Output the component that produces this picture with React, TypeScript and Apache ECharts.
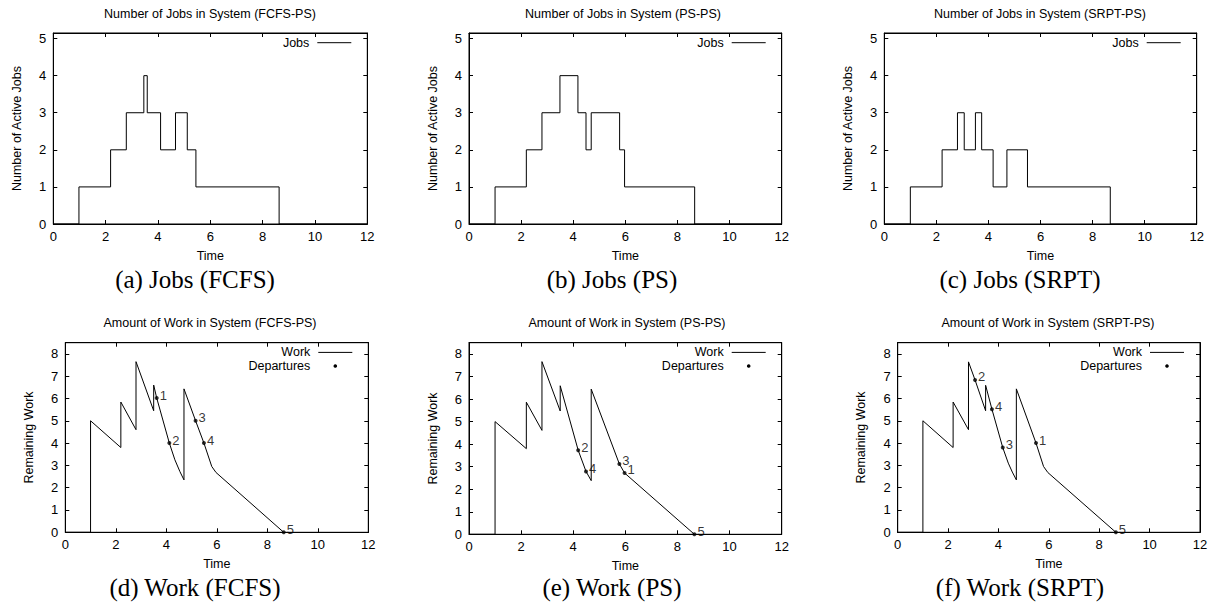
import React, { useEffect, useRef } from "react";
import * as echarts from "echarts";

// ---------- data ----------
const jobsTimeFCFS = [0, 0.98, 2.19, 2.79, 3.46, 3.59, 4.1, 4.67, 5.12, 5.45, 8.63, 12];
const jobsCountFCFS = [0, 1, 2, 3, 4, 3, 2, 3, 2, 1, 0, 0];
const jobsTimePS = [0, 1.0, 2.2, 2.8, 3.49, 4.18, 4.49, 4.69, 5.78, 5.97, 8.66, 12];
const jobsCountPS = [0, 1, 2, 3, 4, 3, 2, 3, 2, 1, 0, 0];
const jobsTimeSRPT = [0, 1.0, 2.22, 2.81, 3.07, 3.5, 3.74, 4.18, 4.71, 5.5, 8.68, 12];
const jobsCountSRPT = [0, 1, 2, 3, 2, 3, 2, 1, 2, 1, 0, 0];

const workTimeFCFS = [0, 1.0, 1.0, 2.2, 2.2, 2.8, 2.8, 3.5, 3.5, 3.62, 4.12, 4.34, 4.54, 4.7, 4.7, 5.16, 5.49, 5.8, 5.97, 8.65];
const workValueFCFS = [0, 0, 5.0, 3.8, 5.84, 4.6, 7.65, 5.45, 6.6, 6.02, 4.0, 3.25, 2.72, 2.35, 6.43, 5.0, 4.0, 2.95, 2.68, 0];
const workTimePS = [0, 1.0, 1.0, 2.2, 2.2, 2.8, 2.8, 3.5, 3.5, 4.19, 4.49, 4.69, 4.69, 5.77, 5.97, 8.65];
const workValuePS = [0, 0, 5.0, 3.8, 5.86, 4.61, 7.66, 5.47, 6.59, 3.73, 2.79, 2.38, 6.44, 3.12, 2.72, 0];
const workTimeSRPT = [0, 1.0, 1.0, 2.2, 2.2, 2.81, 2.81, 3.07, 3.49, 3.49, 3.74, 4.17, 4.39, 4.55, 4.71, 4.71, 5.49, 5.79, 5.96, 8.66];
const workValueSRPT = [0, 0, 5.0, 3.8, 5.84, 4.6, 7.64, 6.83, 5.45, 6.59, 5.52, 3.8, 3.1, 2.7, 2.35, 6.43, 4.0, 2.95, 2.68, 0];

const depIdFCFS = ["1", "2", "3", "4", "5"];
const depTimeFCFS = [3.62, 4.12, 5.16, 5.49, 8.65];
const depWorkFCFS = [6.02, 4.0, 5.0, 4.0, 0];
const depIdPS = ["2", "4", "3", "1", "5"];
const depTimePS = [4.19, 4.49, 5.77, 5.97, 8.65];
const depWorkPS = [3.73, 2.79, 3.12, 2.72, 0];
const depIdSRPT = ["2", "4", "3", "1", "5"];
const depTimeSRPT = [3.07, 3.74, 4.17, 5.49, 8.66];
const depWorkSRPT = [6.83, 5.52, 3.8, 4.0, 0];

const xTicks = [0, 2, 4, 6, 8, 10, 12];

const SANS = "'Liberation Sans', Arial, Helvetica, sans-serif";
const SERIF = "'Liberation Serif', 'Times New Roman', serif";
const FS = 12.5;
const TICK_FS = 13;

type Panel = {
  box: number[];
  kind: "jobs" | "work";
  title: string;
  titleX: number;
  caption: string;
  captionX: number;
  captionY: number;
  times: number[];
  values: number[];
  depIds?: string[];
  depT?: number[];
  depW?: number[];
};

const panels: Panel[] = [
  { box: [53.3, 33, 314, 191], kind: "jobs", title: "Number of Jobs in System (FCFS-PS)", titleX: 210, caption: "(a) Jobs (FCFS)", captionX: 195, captionY: 279, times: jobsTimeFCFS, values: jobsCountFCFS },
  { box: [469, 33, 312.7, 191], kind: "jobs", title: "Number of Jobs in System (PS-PS)", titleX: 623, caption: "(b) Jobs (PS)", captionX: 612, captionY: 279, times: jobsTimePS, values: jobsCountPS },
  { box: [884.3, 33, 312.4, 191], kind: "jobs", title: "Number of Jobs in System (SRPT-PS)", titleX: 1040, caption: "(c) Jobs (SRPT)", captionX: 1020, captionY: 279, times: jobsTimeSRPT, values: jobsCountSRPT },
  { box: [65.3, 342.7, 303, 189.6], kind: "work", title: "Amount of Work in System (FCFS-PS)", titleX: 210, caption: "(d) Work (FCFS)", captionX: 195, captionY: 587, times: workTimeFCFS, values: workValueFCFS, depIds: depIdFCFS, depT: depTimeFCFS, depW: depWorkFCFS },
  { box: [469, 342.7, 312.7, 191.6], kind: "work", title: "Amount of Work in System (PS-PS)", titleX: 627, caption: "(e) Work (PS)", captionX: 612, captionY: 587, times: workTimePS, values: workValuePS, depIds: depIdPS, depT: depTimePS, depW: depWorkPS },
  { box: [897.7, 342.7, 302.3, 189.6], kind: "work", title: "Amount of Work in System (SRPT-PS)", titleX: 1048, caption: "(f) Work (SRPT)", captionX: 1020, captionY: 587, times: workTimeSRPT, values: workValueSRPT, depIds: depIdSRPT, depT: depTimeSRPT, depW: depWorkSRPT },
];

function buildOption() {
  const grid: any[] = [];
  const xAxis: any[] = [];
  const yAxis: any[] = [];
  const series: any[] = [];
  const title: any[] = [];
  const graphic: any[] = [];

  const intLabel = (v: number) => (Math.abs(v - Math.round(v)) < 1e-9 ? String(Math.round(v)) : "");
  const tick = { show: true, inside: true, length: 4, lineStyle: { color: "#000", width: 1 } };
  const line = { show: true, onZero: false, lineStyle: { color: "#000", width: 1 } };

  panels.forEach((p, i) => {
    const [left, top, width, height] = p.box;
    grid.push({ left, top, width, height, show: true, borderColor: "#000", borderWidth: 1, backgroundColor: "transparent" });
    const yMax = p.kind === "jobs" ? 5.15 : 8.5;
    xAxis.push({
      type: "value", gridIndex: i, position: "bottom", min: xTicks[0], max: xTicks[xTicks.length - 1], interval: 2,
      name: "Time", nameLocation: "middle", nameGap: 25,
      nameTextStyle: { color: "#000", fontSize: FS, fontFamily: SANS },
      axisLine: line, axisTick: tick,
      axisLabel: { color: "#000", fontSize: TICK_FS, fontFamily: SANS, margin: 6, formatter: intLabel },
      splitLine: { show: false },
    });
    xAxis.push({
      type: "value", gridIndex: i, position: "top", min: xTicks[0], max: xTicks[xTicks.length - 1], interval: 2,
      axisLine: line, axisTick: tick, axisLabel: { show: false }, splitLine: { show: false },
    });
    yAxis.push({
      type: "value", gridIndex: i, position: "left", min: 0, max: yMax, interval: 1,
      name: p.kind === "jobs" ? "Number of Active Jobs" : "Remaining Work",
      nameLocation: "middle", nameGap: 30, nameRotate: 90,
      nameTextStyle: { color: "#000", fontSize: FS, fontFamily: SANS },
      axisLine: line, axisTick: tick,
      axisLabel: { color: "#000", fontSize: TICK_FS, fontFamily: SANS, margin: 7, formatter: intLabel },
      splitLine: { show: false },
    });
    yAxis.push({
      type: "value", gridIndex: i, position: "right", min: 0, max: yMax, interval: 1,
      axisLine: line, axisTick: tick, axisLabel: { show: false }, splitLine: { show: false },
    });

    const data = p.times.map((t, k) => [t, p.values[k]]);
    series.push({
      type: "line", name: p.kind === "jobs" ? "Jobs" : "Work",
      xAxisIndex: 2 * i, yAxisIndex: 2 * i,
      data, step: p.kind === "jobs" ? "end" : undefined,
      showSymbol: false, symbol: "none",
      lineStyle: { color: "#000", width: 1 }, clip: true, z: 3,
    });
    if (p.kind === "work" && p.depT && p.depW && p.depIds) {
      const ids = p.depIds;
      series.push({
        type: "scatter", name: "Departures",
        xAxisIndex: 2 * i, yAxisIndex: 2 * i,
        data: p.depT.map((t, k) => [t, p.depW![k], ids[k]]),
        symbol: "circle", symbolSize: 4,
        itemStyle: { color: "#000" },
        label: {
          show: true, position: "right", distance: 1, offset: [0, -3],
          formatter: (prm: any) => prm.value[2],
          color: "#000", fontSize: TICK_FS, fontFamily: SANS,
        },
        z: 4,
      });
    }

    title.push({
      text: p.title, left: p.titleX, top: top - 26, textAlign: "center", padding: 0,
      textStyle: { color: "#000", fontSize: FS, fontWeight: "normal", fontFamily: SANS },
    });

    // key (legend box) drawn like gnuplot's
    const R = left + width;
    const ly = top + 9.7;
    graphic.push({
      type: "text", x: R - 58, y: ly,
      style: { text: p.kind === "jobs" ? "Jobs" : "Work", fill: "#000", font: `${FS}px ${SANS}`, textAlign: "right", textVerticalAlign: "middle" },
    });
    graphic.push({
      type: "line", shape: { x1: R - 50, y1: ly, x2: R - 16, y2: ly },
      style: { stroke: "#000", lineWidth: 1 },
    });
    if (p.kind === "work") {
      graphic.push({
        type: "text", x: R - 58, y: top + 23.3,
        style: { text: "Departures", fill: "#000", font: `${FS}px ${SANS}`, textAlign: "right", textVerticalAlign: "middle" },
      });
      graphic.push({ type: "circle", shape: { cx: R - 33, cy: top + 23.3, r: 1.8 }, style: { fill: "#000" } });
    }
    graphic.push({
      type: "text", x: p.captionX, y: p.captionY,
      style: { text: p.caption, fill: "#000", font: `25px ${SERIF}`, textAlign: "center", textVerticalAlign: "middle" },
    });
  });

  return { animation: false, backgroundColor: "#fff", title, grid, xAxis, yAxis, series, graphic };
}

export default function App() {
  const ref = useRef<HTMLDivElement>(null);
  useEffect(() => {
    if (!ref.current) return;
    const chart = echarts.init(ref.current, undefined, { renderer: "svg" });
    chart.setOption(buildOption() as any);
    return () => chart.dispose();
  }, []);
  return <div ref={ref} style={{ position: "absolute", left: 0, top: 0, width: 1214, height: 613, background: "#fff" }} />;
}
